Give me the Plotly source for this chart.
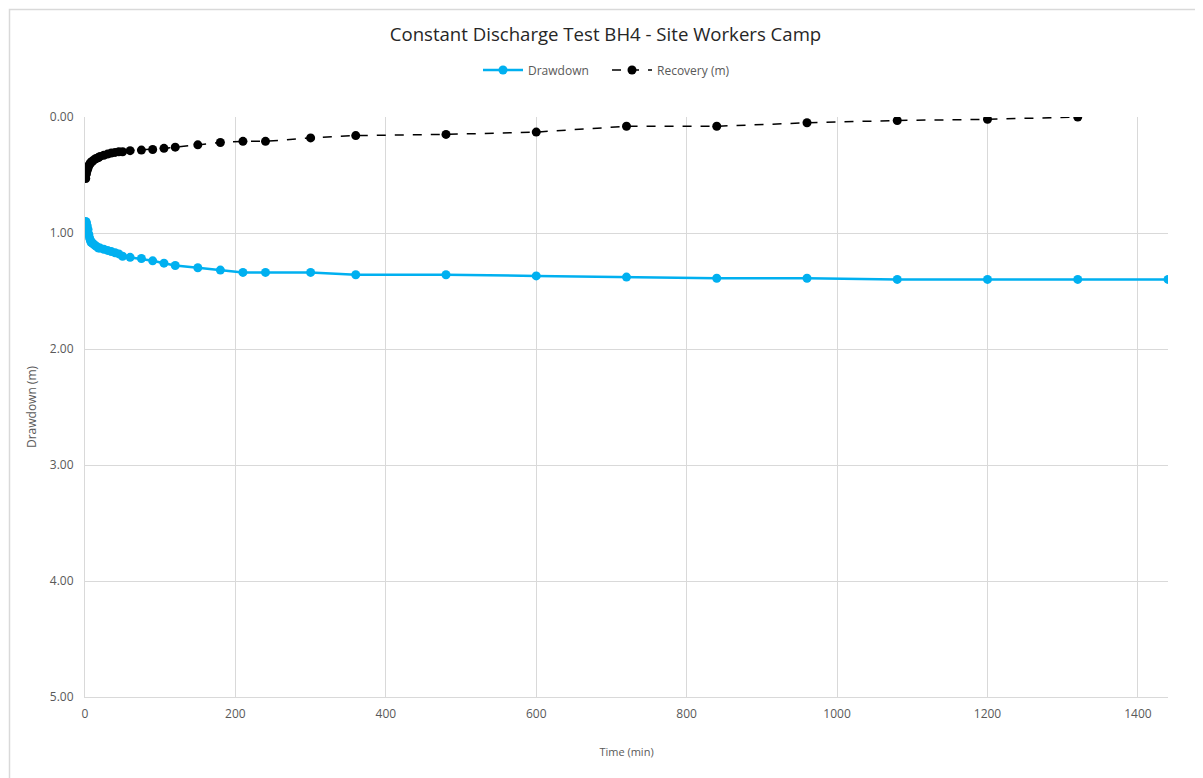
import plotly.graph_objects as go

# drawdown readings (pumping phase)
drawdown_time = [1, 2, 3, 4, 5, 6, 7, 8, 9, 10, 12, 14, 16, 18, 20, 25, 30, 35, 40, 45,
                 50, 60, 75, 90, 105, 120, 150, 180, 210, 240, 300, 360, 480, 600, 720,
                 840, 960, 1080, 1200, 1320, 1440]
drawdown_m = [0.90, 0.91, 0.94, 0.97, 1.01, 1.04, 1.06, 1.08, 1.08, 1.09, 1.10, 1.11, 1.12,
              1.13, 1.13, 1.14, 1.15, 1.16, 1.17, 1.18, 1.20, 1.21, 1.22, 1.24, 1.26, 1.28,
              1.30, 1.32, 1.34, 1.34, 1.34, 1.36, 1.36, 1.37, 1.38, 1.39, 1.39, 1.40, 1.40,
              1.40, 1.40]

# recovery readings
recovery_time = [1, 2, 3, 4, 5, 6, 7, 8, 9, 10, 12, 14, 16, 18, 20, 25, 30, 35, 40, 45,
                 50, 60, 75, 90, 105, 120, 150, 180, 210, 240, 300, 360, 480, 600, 720,
                 840, 960, 1080, 1200, 1320]
recovery_m = [0.53, 0.49, 0.46, 0.44, 0.42, 0.41, 0.40, 0.39, 0.385, 0.38, 0.37, 0.36,
              0.355, 0.35, 0.34, 0.33, 0.32, 0.31, 0.305, 0.30, 0.30, 0.29, 0.285, 0.28,
              0.27, 0.26, 0.24, 0.22, 0.21, 0.21, 0.18, 0.16, 0.15, 0.13, 0.08, 0.08,
              0.05, 0.03, 0.02, 0.00]

FONT = "Open Sans"
GRID = "#d9d9d9"
TEXT = "#595959"

fig = go.Figure()
fig.add_trace(go.Scatter(
    x=drawdown_time, y=drawdown_m, mode="lines+markers", name="Drawdown",
    line=dict(color="#00b0f0", width=2.5),
    marker=dict(color="#00b0f0", size=9),
))
fig.add_trace(go.Scatter(
    x=recovery_time, y=recovery_m, mode="lines+markers", name="Recovery (m)",
    line=dict(color="black", width=1.5, dash="dash"),
    marker=dict(color="black", size=9),
))

# chart area border (kept inside the svg, which starts 8px into the page)
fig.add_shape(type="rect", xref="paper", yref="paper",
              x0=(9.5 - 85) / 1083, x1=(1200 - 85) / 1083,
              y0=-0.15, y1=(697 - 9.5) / 580,
              line=dict(color="#d9d9d9", width=1.5), layer="below")

# page body adds 8px margin, so size/margins are reduced to keep plot area in place
fig.update_layout(
    width=1195, height=770,
    margin=dict(l=77, r=35, t=109, b=81),
    paper_bgcolor="white", plot_bgcolor="white",
    font=dict(family=FONT, color=TEXT, size=11),
    title=dict(text="Constant Discharge Test BH4 - Site Workers Camp",
               x=0.5, xanchor="center", y=(770 - 26) / 770, yanchor="middle",
               font=dict(family=FONT, size=18.6, color="#262626")),
    legend=dict(orientation="h", x=0.482, xanchor="center", y=1.081, yanchor="middle",
                font=dict(family=FONT, size=12, color=TEXT), itemwidth=40,
                entrywidth=74),
    xaxis=dict(title=dict(text="Time (min)", font=dict(size=11, color=TEXT), standoff=26),
               range=[0, 1440], dtick=200, tick0=0,
               showgrid=True, gridcolor=GRID, gridwidth=1,
               showline=True, linecolor=GRID, linewidth=1,
               zeroline=False, ticks="", ticklabelstandoff=6,
               tickfont=dict(size=12, color=TEXT)),
    yaxis=dict(title=dict(text="Drawdown (m)", font=dict(size=12, color=TEXT), standoff=10),
               range=[5, 0], dtick=1, tick0=0, tickformat=".2f",
               showgrid=True, gridcolor=GRID, gridwidth=1,
               showline=True, linecolor=GRID, linewidth=1,
               zeroline=False, ticks="", ticklabelstandoff=8,
               tickfont=dict(size=12, color=TEXT)),
)

fig.write_html("out.html")
